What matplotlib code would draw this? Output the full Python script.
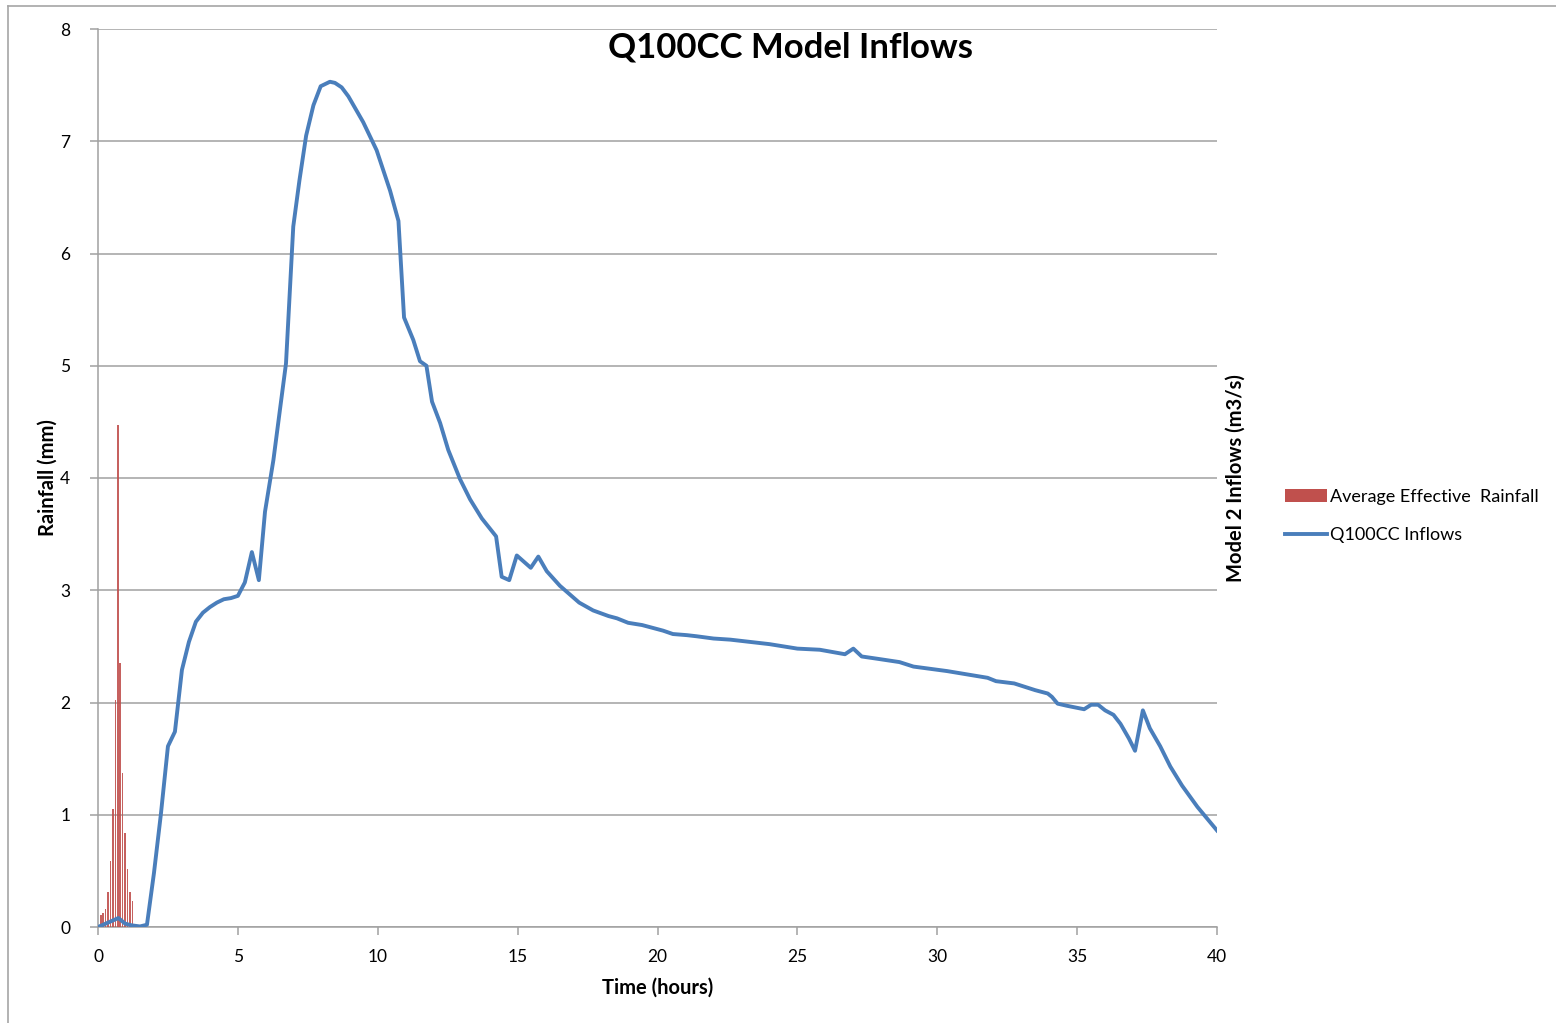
import matplotlib
matplotlib.use('Agg')
import matplotlib.pyplot as plt
from matplotlib.lines import Line2D
from matplotlib.patches import Patch

plt.rcParams['font.family'] = ['Lato', 'DejaVu Sans']

# === DADOS ===
# chuva efetiva média (mm) - barras finas no início do evento
tempo_chuva = [0.10, 0.19, 0.27, 0.36, 0.45, 0.53, 0.62, 0.71, 0.79, 0.88, 0.97, 1.05, 1.14, 1.23]
chuva = [0.107, 0.123, 0.16, 0.31, 0.59, 1.05, 2.02, 4.47, 2.35, 1.37, 0.84, 0.52, 0.31, 0.23]

# vazões Q100CC (m3/s)
tempo_vazao = [0.0, 0.73, 0.97, 1.2, 1.5, 1.75, 2.0, 2.25, 2.5, 2.75, 3.0, 3.25, 3.5, 3.75,
               4.0, 4.25, 4.5, 4.75, 5.0, 5.25, 5.5, 5.75, 5.97, 6.27, 6.51, 6.72, 6.98,
               7.2, 7.44, 7.7, 7.96, 8.29, 8.47, 8.71, 8.95, 9.48, 9.96, 10.44, 10.74,
               10.94, 11.27, 11.51, 11.74, 11.94, 12.23, 12.52, 12.94, 13.3, 13.72, 14.23,
               14.43, 14.7, 14.97, 15.47, 15.74, 16.04, 16.51, 17.2, 17.7, 18.25, 18.55,
               18.95, 19.45, 19.75, 20.2, 20.55, 21.05, 21.4, 22.0, 22.6, 23.3, 24.0, 25.0,
               25.8, 26.7, 27.0, 27.3, 27.85, 28.65, 29.15, 30.35, 31.8, 32.1, 32.75, 33.0,
               33.5, 33.95, 34.1, 34.3, 34.65, 35.25, 35.5, 35.75, 36.0, 36.3, 36.55, 36.85,
               37.07, 37.35, 37.6, 37.97, 38.33, 38.75, 39.3, 40.0]
vazao = [0.0, 0.08, 0.03, 0.015, 0.005, 0.02, 0.48, 1.01, 1.61, 1.74, 2.29, 2.54, 2.72, 2.80,
         2.85, 2.89, 2.92, 2.93, 2.95, 3.07, 3.34, 3.09, 3.70, 4.16, 4.62, 5.02, 6.24,
         6.65, 7.05, 7.32, 7.49, 7.53, 7.52, 7.48, 7.40, 7.17, 6.92, 6.56, 6.29,
         5.43, 5.23, 5.04, 5.00, 4.68, 4.49, 4.25, 3.99, 3.81, 3.64, 3.48,
         3.12, 3.09, 3.31, 3.20, 3.30, 3.17, 3.04, 2.89, 2.82, 2.77, 2.75,
         2.71, 2.69, 2.67, 2.64, 2.61, 2.60, 2.59, 2.57, 2.56, 2.54, 2.52, 2.48,
         2.47, 2.43, 2.48, 2.41, 2.39, 2.36, 2.32, 2.28, 2.22, 2.19, 2.17, 2.15,
         2.11, 2.08, 2.05, 1.99, 1.97, 1.94, 1.98, 1.98, 1.93, 1.89, 1.81, 1.68,
         1.57, 1.93, 1.77, 1.61, 1.43, 1.26, 1.07, 0.86]

cor_chuva = '#C0504D'
cor_vazao = '#4A7EBB'
cinza = '#A0A0A0'

# === FIGURA ===
fig = plt.figure(figsize=(15.56, 10.23), dpi=100)
ax = fig.add_axes([98 / 1556, 1 - 927 / 1023, (1217 - 98) / 1556, (927 - 29) / 1023])

ax.bar(tempo_chuva, chuva, width=0.06, color=cor_chuva, alpha=0.9, linewidth=0, zorder=3)
ax.plot(tempo_vazao, vazao, color=cor_vazao, linewidth=2.8, zorder=4)

ax.set_xlim(0, 40)
ax.set_ylim(0, 8)
ax.set_xticks(range(0, 41, 5))
ax.set_yticks(range(0, 9))
ax.grid(axis='y', color=cinza, linewidth=1.1, zorder=0)

for lado in ['top', 'right']:
    ax.spines[lado].set_visible(False)
for lado in ['left', 'bottom']:
    ax.spines[lado].set_color(cinza)
    ax.spines[lado].set_linewidth(1.1)

ax.tick_params(axis='both', direction='out', length=6, color=cinza, width=1.1,
               labelsize=12.5, pad=10)
ax.tick_params(axis='y', pad=14)

fig.text(790 / 1556, 1 - 47 / 1023, 'Q100CC Model Inflows', ha='center', va='center',
         fontsize=25, fontweight='bold')
fig.text(48 / 1556, 1 - 478 / 1023, 'Rainfall (mm)', rotation=90, ha='center', va='center',
         fontsize=14.5, fontweight='bold')
fig.text(658 / 1556, 1 - 988 / 1023, 'Time (hours)', ha='center', va='center',
         fontsize=14.5, fontweight='bold')
fig.text(1236 / 1556, 1 - 478 / 1023, 'Model 2 Inflows (m3/s)', rotation=90, ha='center',
         va='center', fontsize=14.5, fontweight='bold')

handles = [Patch(facecolor=cor_chuva, edgecolor='none'),
           Line2D([0], [0], color=cor_vazao, linewidth=2.8)]
fig.legend(handles, ['Average Effective  Rainfall', 'Q100CC Inflows'], loc='center left',
           bbox_to_anchor=(1276 / 1556, 1 - 516 / 1023), frameon=False, fontsize=13,
           handlelength=2.3, handletextpad=0.2, labelspacing=1.25, borderpad=0)

# moldura externa (estilo Excel)
fig.add_artist(Line2D([8 / 1556, 8 / 1556], [0, 1 - 6 / 1023], color='#A6A6A6', linewidth=1.2))
fig.add_artist(Line2D([8 / 1556, 1], [1 - 6 / 1023, 1 - 6 / 1023], color='#A6A6A6', linewidth=1.2))

plt.savefig('out.png', dpi=100)
